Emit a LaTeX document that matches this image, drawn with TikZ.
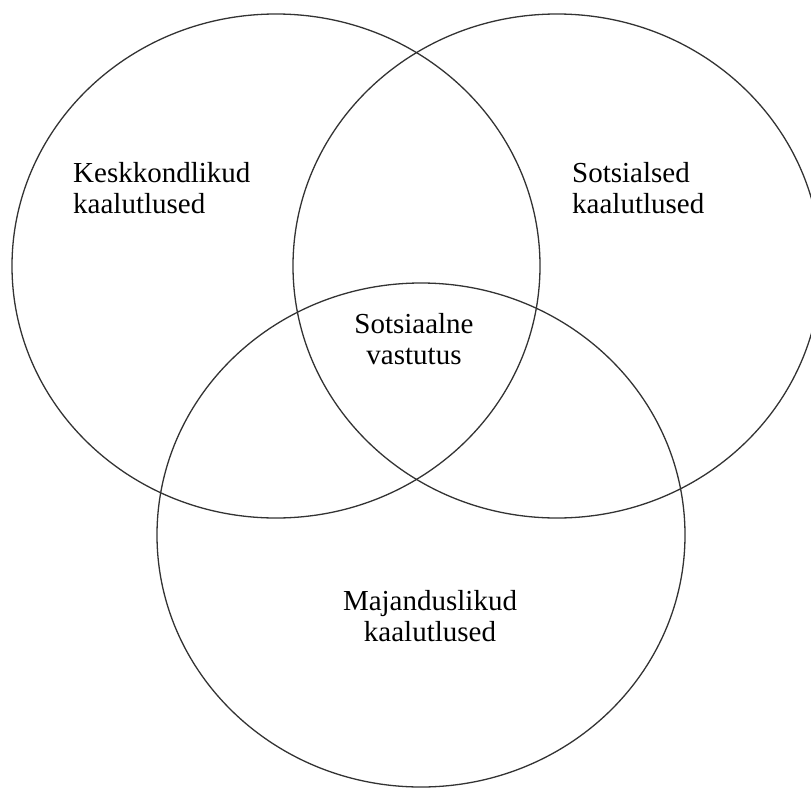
\documentclass[tikz,border=0pt]{standalone}
\usepackage{fontspec}
\setmainfont{Liberation Serif}
\begin{document}
\begin{tikzpicture}[x=1pt,y=-1pt]
    \def\Rx{264pt}
    \def\Ry{252pt}
    \useasboundingbox (0,0) rectangle (811,790);

    % Circles
    \foreach \cx/\cy in {276/266, 557/266, 421/535} {
        \draw[line width=1.3pt, black!80] (\cx,\cy) ellipse [x radius=\Rx, y radius=\Ry];
    }

    % Labels
    \begin{scope}[font=\fontsize{29}{31.5}\selectfont, inner sep=0pt]
        \node[anchor=north west, align=left] (env) at (73,162) {Keskkondlikud\\kaalutlused};
        \node[anchor=north west, align=left] (soc) at (572,162) {Sotsialsed\\kaalutlused};
        \node[anchor=north, align=center] (csr) at (414,313) {Sotsiaalne\\vastutus};
        \node[anchor=north, align=center] (eco) at (430,590) {Majanduslikud\\kaalutlused};
    \end{scope}
\end{tikzpicture}
\end{document}
